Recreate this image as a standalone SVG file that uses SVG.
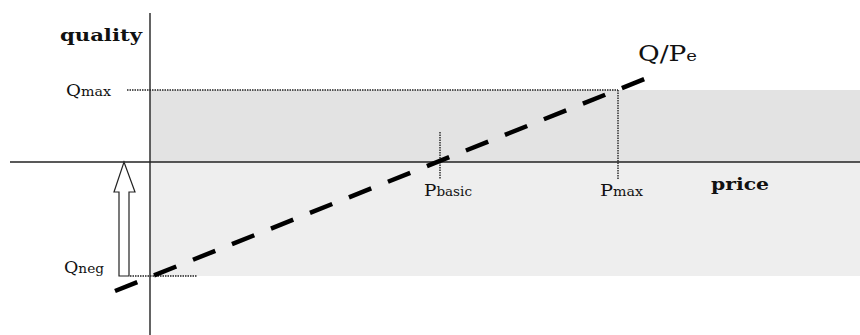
<svg xmlns="http://www.w3.org/2000/svg" width="860" height="335" viewBox="0 0 860 335">
<style>
.axis{stroke:#222;stroke-width:1.4;fill:none}
.dot{stroke:#222;stroke-width:1.4;stroke-dasharray:1.5 1;fill:none}
.lbl{font-family:"DejaVu Serif","Liberation Serif",serif;fill:#111}
.b{font-weight:bold;font-size:16px}
.sub{font-size:12.5px}
</style>
<rect x="0" y="0" width="860" height="335" fill="#fff"/>
<g id="zones">
<rect x="150" y="90" width="710" height="72" fill="#e3e3e3"/>
<rect x="150" y="162" width="710" height="114" fill="#eeeeee"/>
</g>
<g id="axes">
<line class="axis" x1="150" y1="13" x2="150" y2="335"/>
<line class="axis" x1="10" y1="162" x2="860" y2="162"/>
</g>
<g id="guides">
<line class="dot" x1="127" y1="90" x2="618" y2="90"/>
<line class="dot" x1="618" y1="90" x2="618" y2="179"/>
<line class="dot" x1="440" y1="132" x2="440" y2="179"/>
<line class="dot" x1="130" y1="276" x2="197" y2="276"/>
</g>
<g id="connectors">
<line x1="115" y1="291" x2="657" y2="74" stroke="#000" stroke-width="4.5" stroke-dasharray="24 18"/>
<path d="M119 276 V192 H114 L124 162 L135 192 H129 V276 Z" fill="#fff" stroke="#222" stroke-width="1.2"/>
</g>
<g id="labels">
<text class="lbl b" x="60" y="41" textLength="82" lengthAdjust="spacingAndGlyphs">quality</text>
<text class="lbl b" x="711" y="190" textLength="58" lengthAdjust="spacingAndGlyphs">price</text>
<text class="lbl" x="638" y="61" font-size="22" textLength="59" lengthAdjust="spacingAndGlyphs">Q/P<tspan font-size="15">e</tspan></text>
<text class="lbl" x="66" y="96" font-size="16" textLength="45" lengthAdjust="spacingAndGlyphs">Q<tspan class="sub">max</tspan></text>
<text class="lbl" x="64" y="273" font-size="16" textLength="40" lengthAdjust="spacingAndGlyphs">Q<tspan class="sub">neg</tspan></text>
<text class="lbl" x="424" y="196" font-size="17" textLength="48" lengthAdjust="spacingAndGlyphs">P<tspan class="sub">basic</tspan></text>
<text class="lbl" x="600" y="196" font-size="17" textLength="43" lengthAdjust="spacingAndGlyphs">P<tspan class="sub">max</tspan></text>
</g>
</svg>
